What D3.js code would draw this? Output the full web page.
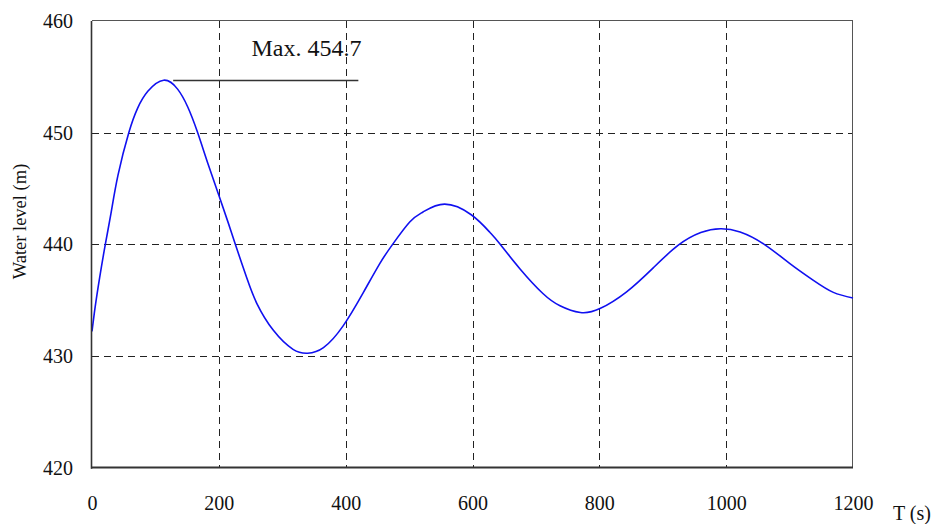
<!DOCTYPE html>
<html>
<head>
<meta charset="utf-8">
<script src="https://cdn.jsdelivr.net/npm/d3@7/dist/d3.min.js"></script>
<style>
  html, body { margin: 0; padding: 0; background: #fff; }
  svg { display: block; }
  svg text { font-family: "Liberation Serif", "DejaVu Serif", serif !important; fill: #111; }
</style>
</head>
<body>
<svg id="chart" width="938" height="524"></svg>
<script>
// ---- data ----
const timeS = [0, 5, 12, 21, 30, 41, 58, 72, 88, 113, 135, 151, 166, 183, 200, 215, 226, 244, 260, 286, 317, 340, 365, 396, 428, 454, 474, 501, 522, 556, 598, 627, 643, 675, 711, 738, 770, 801, 843, 885, 924, 960, 991, 1022, 1060, 1100, 1137, 1169, 1200];
const waterLevel = [432.2, 434.4, 437.0, 440.0, 442.8, 446.2, 450.0, 452.2, 453.7, 454.7, 453.9, 452.3, 450.1, 447.2, 444.4, 441.9, 440.0, 437.0, 434.7, 432.3, 430.6, 430.25, 430.75, 432.7, 435.7, 438.3, 440.0, 442.0, 442.9, 443.6, 442.65, 441.1, 440.05, 437.8, 435.6, 434.5, 433.9, 434.25, 435.75, 437.9, 439.9, 441.05, 441.4, 441.1, 440.0, 438.3, 436.8, 435.7, 435.2];
const xTicks = [0, 200, 400, 600, 800, 1000, 1200];
const yTicks = [420, 430, 440, 450, 460];
const xGrid = [200, 400, 600, 800, 1000];
const yGrid = [430, 440, 450];
const maxLabel = "Max. 454.7";
const maxValue = 454.7;
const maxLineT = [128, 420];
const xTitle = "T (s)";
const yTitle = "Water level (m)";

// ---- layout ----
const FONT = "'Liberation Serif', 'DejaVu Serif', serif";
const svg = d3.select("#chart");
const x = d3.scaleLinear().domain([0, 1200]).range([92, 853]);
const y = d3.scaleLinear().domain([420, 460]).range([467.7, 21]);

// grid
const grid = svg.append("g").attr("stroke", "#222").attr("stroke-width", 1).attr("stroke-dasharray", "7,5").attr("fill", "none");
grid.selectAll("line.v").data(xGrid).join("line").attr("class", "v")
  .attr("x1", d => Math.round(x(d)) + 0.5).attr("x2", d => Math.round(x(d)) + 0.5)
  .attr("y1", y(460)).attr("y2", y(420));
grid.selectAll("line.h").data(yGrid).join("line").attr("class", "h")
  .attr("y1", d => Math.round(y(d)) + 0.5).attr("y2", d => Math.round(y(d)) + 0.5)
  .attr("x1", x(0)).attr("x2", x(1200));

// frame: top & right thin
svg.append("line").attr("x1", x(0)).attr("x2", x(1200)).attr("y1", 20.5).attr("y2", 20.5).attr("stroke", "#555").attr("stroke-width", 1);
svg.append("line").attr("x1", 852.5).attr("x2", 852.5).attr("y1", y(460)).attr("y2", y(420)).attr("stroke", "#555").attr("stroke-width", 1);

// data line
const line = d3.line().x(d => x(d[0])).y(d => y(d[1])).curve(d3.curveNatural);
svg.append("path").datum(d3.zip(timeS, waterLevel))
  .attr("d", line).attr("fill", "none").attr("stroke", "#1010f0").attr("stroke-width", 1.6);

// left & bottom axis lines (thicker)
svg.append("line").attr("x1", 91.5).attr("x2", 91.5).attr("y1", y(460)).attr("y2", y(420) + 1).attr("stroke", "#333").attr("stroke-width", 1.6);
svg.append("line").attr("x1", 91).attr("x2", 853).attr("y1", 467.5).attr("y2", 467.5).attr("stroke", "#333").attr("stroke-width", 2);

// axes (labels only)
const xAxis = d3.axisBottom(x).tickValues(xTicks).tickSize(0).tickPadding(28).tickFormat(d3.format("d"));
const gx = svg.append("g").attr("transform", `translate(0,${y(420)})`).call(xAxis)
  .attr("font-family", null).attr("font-size", null);
gx.select(".domain").remove();
gx.selectAll("text").style("font-family", FONT).style("font-size", "20px").attr("fill", "#111");

const yAxis = d3.axisLeft(y).tickValues(yTicks).tickSize(0).tickPadding(19).tickFormat(d3.format("d"));
const gy = svg.append("g").attr("transform", `translate(${x(0)},0)`).call(yAxis)
  .attr("font-family", null).attr("font-size", null);
gy.select(".domain").remove();
gy.selectAll("text").style("font-family", FONT).style("font-size", "20px").attr("fill", "#111");

// titles
svg.append("text").attr("x", 893).attr("y", 520).style("font-family", FONT).style("font-size", "20px").text(xTitle);
svg.append("text").attr("transform", `translate(26,221.5) rotate(-90)`).attr("text-anchor", "middle")
  .style("font-family", FONT).style("font-size", "18.5px").text(yTitle);

// annotation
svg.append("line").attr("x1", x(maxLineT[0])).attr("x2", x(maxLineT[1]))
  .attr("y1", Math.round(y(maxValue)) + 0.5).attr("y2", Math.round(y(maxValue)) + 0.5)
  .attr("stroke", "#333").attr("stroke-width", 1.5);
svg.append("text").attr("x", 251.5).attr("y", 55.5).style("font-family", FONT).style("font-size", "24px").text(maxLabel);
</script>
</body>
</html>
